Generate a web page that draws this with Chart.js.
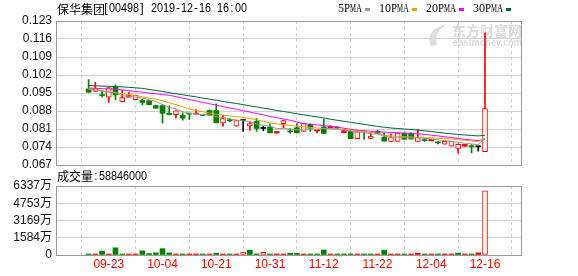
<!DOCTYPE html>
<html>
<head>
<meta charset="utf-8">
<script src="https://cdn.jsdelivr.net/npm/chart.js@4.4.0/dist/chart.umd.min.js"></script>
<style>
  html, body { margin: 0; padding: 0; background: #fff; }
  #wrap { position: relative; width: 578px; height: 276px; }
  #kline { position: absolute; left: 0; top: 0; }
  #vol { position: absolute; left: 0; top: 166px; }
</style>
</head>
<body>
<div id="wrap">
  <canvas id="kline" width="578" height="177"></canvas>
  <canvas id="vol" width="578" height="110"></canvas>
</div>
<script>
// 保华集团 00498, daily candles
const stockName = '保华集团';
const stockCode = '00498';
const stamp = '2019-12-16 16:00';
const prevClose = 0.0960;

const opens = [0.0966,0.0956,0.0941,0.0934,0.0973,0.0916,0.0934,0.0924,0.0921,0.0920,
  0.0901,0.0901,0.0871,0.0866,0.0863,0.0870,0.0868,0.0866,0.0882,0.0882,
  0.0834,0.0845,0.0821,0.0843,0.0822,0.0840,0.0812,0.0818,0.0794,0.0831,
  0.0801,0.0815,0.0801,0.0828,0.0802,0.0818,0.0815,0.0816,0.0796,0.0801,
  0.0772,0.0800,0.0773,0.0801,0.0778,0.0762,0.0762,0.0794,0.0794,0.0762,
  0.0767,0.0764,0.0758,0.0751,0.0743,0.0734,0.0743,0.0744,0.0741,0.0722];
const highs = [0.1002,0.0991,0.0960,0.0971,0.0982,0.0962,0.0952,0.0941,0.0927,0.0921,
  0.0903,0.0904,0.0900,0.0882,0.0873,0.0870,0.0886,0.0866,0.0884,0.0908,
  0.0863,0.0851,0.0843,0.0843,0.0838,0.0851,0.0821,0.0830,0.0800,0.0845,
  0.0812,0.0831,0.0831,0.0831,0.0808,0.0848,0.0823,0.0818,0.0806,0.0808,
  0.0806,0.0800,0.0795,0.0805,0.0795,0.0790,0.0795,0.0795,0.0795,0.0809,
  0.0772,0.0770,0.0762,0.0762,0.0762,0.0752,0.0750,0.0750,0.0741,0.1184];
const lows = [0.0953,0.0956,0.0934,0.0914,0.0924,0.0916,0.0934,0.0924,0.0904,0.0904,
  0.0891,0.0833,0.0865,0.0852,0.0844,0.0847,0.0868,0.0862,0.0864,0.0834,
  0.0821,0.0838,0.0821,0.0801,0.0804,0.0801,0.0803,0.0795,0.0794,0.0815,
  0.0793,0.0795,0.0801,0.0801,0.0795,0.0792,0.0815,0.0812,0.0795,0.0772,
  0.0772,0.0769,0.0772,0.0792,0.0763,0.0762,0.0762,0.0770,0.0770,0.0762,
  0.0762,0.0764,0.0752,0.0751,0.0743,0.0717,0.0743,0.0717,0.0724,0.0722];
const closes = [0.0953,0.0969,0.0940,0.0971,0.0943,0.0932,0.0940,0.0941,0.0913,0.0905,
  0.0891,0.0871,0.0866,0.0881,0.0852,0.0868,0.0870,0.0863,0.0864,0.0834,
  0.0851,0.0842,0.0843,0.0843,0.0831,0.0812,0.0812,0.0795,0.0800,0.0843,
  0.0799,0.0795,0.0831,0.0813,0.0808,0.0793,0.0820,0.0814,0.0803,0.0772,
  0.0799,0.0798,0.0782,0.0793,0.0763,0.0777,0.0794,0.0770,0.0771,0.0777,
  0.0765,0.0770,0.0756,0.0762,0.0762,0.0750,0.0750,0.0741,0.0741,0.0889];
const volumes = [900000,700000,3600000,600000,6600000,900000,500000,600000,3800000,1300000,
  2000000,5800000,1900000,600000,800000,700000,500000,700000,600000,1700000,
  600000,900000,700000,2600000,4500000,1000000,2500000,800000,600000,700000,
  1600000,1500000,600000,900000,700000,4600000,700000,600000,800000,900000,
  700000,800000,600000,700000,4400000,600000,700000,100000,600000,1600000,
  800000,700000,900000,600000,700000,1700000,600000,800000,1900000,58846000];

const ma5 = [0.0964,0.0961,0.0957,0.0953,0.0950,0.0940,0.0937,0.0934,0.0930,0.0924,
  0.0917,0.0905,0.0895,0.0888,0.0877,0.0871,0.0869,0.0866,0.0865,0.0857,
  0.0855,0.0850,0.0845,0.0842,0.0839,0.0830,0.0825,0.0820,0.0812,0.0812,
  0.0810,0.0807,0.0809,0.0810,0.0808,0.0812,0.0811,0.0810,0.0808,0.0801,
  0.0800,0.0796,0.0791,0.0790,0.0782,0.0778,0.0778,0.0776,0.0775,0.0776,
  0.0774,0.0771,0.0768,0.0765,0.0762,0.0758,0.0755,0.0752,0.0749,0.0775];
const ma10 = [0.0966,0.0963,0.0959,0.0955,0.0951,0.0948,0.0944,0.0940,0.0935,0.0930,
  0.0926,0.0920,0.0912,0.0905,0.0896,0.0888,0.0882,0.0877,0.0872,0.0867,
  0.0864,0.0861,0.0858,0.0855,0.0851,0.0846,0.0840,0.0834,0.0830,0.0827,
  0.0824,0.0821,0.0819,0.0816,0.0814,0.0812,0.0811,0.0810,0.0808,0.0806,
  0.0803,0.0800,0.0797,0.0793,0.0786,0.0783,0.0782,0.0780,0.0779,0.0778,
  0.0777,0.0776,0.0774,0.0773,0.0771,0.0768,0.0766,0.0763,0.0761,0.0773];
const ma20 = [0.0969,0.0968,0.0967,0.0966,0.0965,0.0962,0.0959,0.0956,0.0953,0.0950,
  0.0947,0.0944,0.0941,0.0936,0.0930,0.0925,0.0919,0.0914,0.0908,0.0903,
  0.0897,0.0892,0.0887,0.0881,0.0876,0.0870,0.0865,0.0859,0.0854,0.0849,
  0.0844,0.0837,0.0831,0.0828,0.0826,0.0823,0.0821,0.0817,0.0813,0.0809,
  0.0805,0.0803,0.0801,0.0799,0.0798,0.0796,0.0795,0.0794,0.0793,0.0791,
  0.0789,0.0786,0.0783,0.0780,0.0777,0.0773,0.0770,0.0767,0.0765,0.0770];
const ma30 = [0.0979,0.0978,0.0977,0.0976,0.0975,0.0974,0.0972,0.0970,0.0968,0.0964,
  0.0960,0.0956,0.0951,0.0947,0.0943,0.0939,0.0935,0.0930,0.0926,0.0922,
  0.0917,0.0913,0.0909,0.0905,0.0900,0.0896,0.0891,0.0887,0.0882,0.0878,
  0.0874,0.0869,0.0865,0.0861,0.0857,0.0853,0.0848,0.0844,0.0840,0.0836,
  0.0832,0.0828,0.0824,0.0820,0.0817,0.0814,0.0812,0.0810,0.0808,0.0806,
  0.0803,0.0800,0.0797,0.0794,0.0791,0.0789,0.0787,0.0785,0.0783,0.0786];

const dateIdx = [3, 11, 19, 27, 35, 43, 51, 59];
const dateLabels = ['09-23', '10-04', '10-21', '10-31', '11-12', '11-22', '12-04', '12-16'];
const priceTicks = [0.067, 0.074, 0.081, 0.088, 0.095, 0.102, 0.109, 0.116, 0.123];
const volTicks = [0, 1584, 3169, 4753, 6337]; // 万

const RED = '#ff0000', GREEN = '#008000', BLACK = '#000000';
const maSeries = [
  { label: '5PMA', data: ma5, color: '#999999' },
  { label: '10PMA', data: ma10, color: '#f0a000' },
  { label: '20PMA', data: ma20, color: '#ff00ff' },
  { label: '30PMA', data: ma30, color: '#006633' }
];

const N = closes.length;
const at = arr => arr.map((v, i) => ({ x: i, y: v }));
const kColor = i => closes[i] > opens[i] ? RED : (closes[i] < opens[i] ? GREEN : BLACK);
const hollowK = i => closes[i] - opens[i] >= 0.0008;
const volUp = i => closes[i] >= (i ? closes[i - 1] : prevClose);
const hollowV = i => volUp(i) && volumes[i] >= 2300000;

Chart.defaults.font.family = '"Liberation Sans", "Noto Sans CJK SC", sans-serif';
Chart.defaults.font.size = 12;
Chart.defaults.color = '#000';

function monoText(ctx, str, x, y, adv) {
  for (let k = 0; k < str.length; k++) {
    const ch = str[k];
    const w = Math.min(ctx.measureText(ch).width, adv);
    ctx.fillText(ch, x + k * adv + (adv - w) / 2, y, adv);
  }
}

const frame = {
  id: 'frame',
  afterDraw(chart) {
    const { ctx, chartArea: a } = chart;
    ctx.save();
    ctx.strokeStyle = '#999';
    ctx.lineWidth = 1;
    ctx.strokeRect(Math.round(a.left) + 0.5, Math.round(a.top) + 0.5,
      Math.round(a.right - a.left) - 1, Math.round(a.bottom - a.top));
    ctx.restore();
  }
};

const header = {
  id: 'header',
  beforeDatasetsDraw(chart) {
    // watermark
    const ctx = chart.ctx;
    ctx.save();
    ctx.fillStyle = '#dcdcdc';
    ctx.beginPath();
    ctx.moveTo(431, 46);
    ctx.quadraticCurveTo(424, 30, 447, 24);
    ctx.quadraticCurveTo(433, 33, 437, 45);
    ctx.closePath();
    ctx.fill();
    ctx.textAlign = 'right';
    ctx.textBaseline = 'middle';
    ctx.font = 'bold 14px "Noto Sans CJK SC"';
    ctx.fillText('东方财富网', 522, 31, 70);
    ctx.font = 'bold 10px "Liberation Sans"';
    ctx.fillText('eastmoney.com', 522, 43, 69);
    ctx.restore();
  },
  afterDraw(chart) {
    const ctx = chart.ctx;
    ctx.save();
    ctx.textBaseline = 'middle';
    ctx.textAlign = 'left';
    ctx.fillStyle = '#000';
    ctx.font = '12px "Noto Sans CJK SC"';
    ctx.fillText(stockName, 57, 9);
    ctx.font = '12px "Liberation Sans"';
    monoText(ctx, '[' + stockCode + '] ' + stamp, 103, 9, 6);
    let x = 338;
    maSeries.forEach(s => {
      ctx.fillStyle = '#000';
      ctx.font = '12px "Liberation Serif"';
      monoText(ctx, s.label, x, 9, 6);
      x += s.label.length * 6 + 3;
      ctx.fillStyle = s.color;
      ctx.fillRect(x, 8, 5, 3);
      x += 14;
    });
    ctx.restore();
  }
};

const volTitle = {
  id: 'volTitle',
  afterDraw(chart) {
    const ctx = chart.ctx;
    ctx.save();
    ctx.textBaseline = 'middle';
    ctx.textAlign = 'left';
    ctx.fillStyle = '#000';
    ctx.font = '12px "Noto Sans CJK SC"';
    ctx.fillText('成交量', 57, 10.5);
    ctx.font = '12px "Liberation Sans"';
    monoText(ctx, ':' + volumes[N - 1], 93, 10.5, 6);
    ctx.restore();
  }
};

const xScale = extra => Object.assign({
  type: 'linear', min: -0.52, max: 60.17,
  afterBuildTicks: s => { s.ticks = dateIdx.map(v => ({ value: v })); },
  grid: { color: '#cccccc', drawTicks: false },
  border: { display: false, dash: [3, 3] }
}, extra);

new Chart(document.getElementById('kline'), {
  type: 'bar',
  data: {
    datasets: [
      ...maSeries.map(s => ({
        type: 'line', label: s.label, data: at(s.data), borderColor: s.color,
        borderWidth: 1, pointRadius: 0, tension: 0, order: 0
      })),
      {
        label: 'body', data: opens.map((o, i) => ({ x: i, y: [o, closes[i]] })),
        grouped: false, barThickness: 5, minBarLength: 1, borderSkipped: false,
        borderColor: ctx => kColor(ctx.dataIndex),
        borderWidth: ctx => hollowK(ctx.dataIndex) ? 1 : 0,
        backgroundColor: ctx => hollowK(ctx.dataIndex) ? '#ffffff' : kColor(ctx.dataIndex),
        order: 1
      },
      {
        label: 'wick', data: lows.map((l, i) => ({ x: i, y: [l, highs[i]] })),
        grouped: false, barThickness: 1, minBarLength: 1,
        backgroundColor: ctx => kColor(ctx.dataIndex),
        order: 2
      }
    ]
  },
  options: {
    responsive: false, animation: false,
    layout: { padding: { left: 0, right: 56, top: 21, bottom: 12 } },
    plugins: { legend: { display: false }, tooltip: { enabled: false } },
    scales: {
      x: xScale({ ticks: { display: false }, afterFit: s => { s.height = 0; } }),
      y: {
        min: 0.067, max: 0.123,
        afterBuildTicks: s => { s.ticks = priceTicks.map(v => ({ value: v })); },
        afterFit: s => { s.width = 56; },
        ticks: { callback: v => v.toFixed(3), padding: 4, color: '#111', autoSkip: false },
        grid: { color: '#d0d0d0', drawTicks: false },
        border: { display: false }
      }
    }
  },
  plugins: [frame, header]
});

new Chart(document.getElementById('vol'), {
  type: 'bar',
  data: {
    datasets: [{
      label: '成交量', data: at(volumes),
      grouped: false, barThickness: 5, minBarLength: 1, borderSkipped: false,
      borderColor: ctx => volUp(ctx.dataIndex) ? RED : GREEN,
      borderWidth: ctx => hollowV(ctx.dataIndex) ? 1 : 0,
      backgroundColor: ctx => hollowV(ctx.dataIndex) ? '#ffffff' : (volUp(ctx.dataIndex) ? RED : GREEN)
    }]
  },
  options: {
    responsive: false, animation: false,
    layout: { padding: { left: 0, right: 56, top: 20, bottom: 0 } },
    plugins: { legend: { display: false }, tooltip: { enabled: false } },
    scales: {
      x: xScale({
        afterFit: s => { s.height = 21; },
        ticks: {
          color: RED, padding: 2, maxRotation: 0, autoSkip: false,
          callback: v => dateLabels[dateIdx.indexOf(v)]
        }
      }),
      y: {
        min: 0, max: volTicks[volTicks.length - 1] * 10000,
        afterBuildTicks: s => { s.ticks = volTicks.map(v => ({ value: v * 10000 })); },
        afterFit: s => { s.width = 56; },
        ticks: { callback: v => v === 0 ? '0' : Math.round(v / 10000) + '万', padding: 4, color: '#111', autoSkip: false },
        grid: { color: '#d0d0d0', drawTicks: false },
        border: { display: false }
      }
    }
  },
  plugins: [frame, volTitle]
});
</script>
</body>
</html>
